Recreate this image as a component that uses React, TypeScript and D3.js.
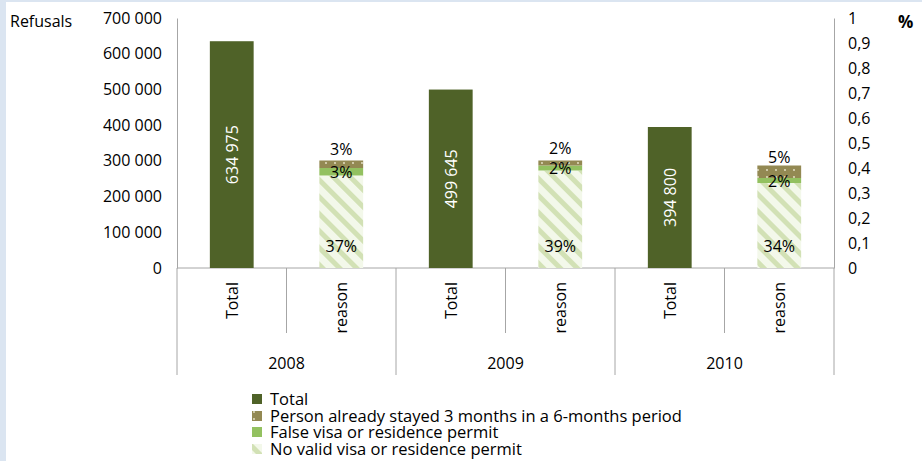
import * as d3 from "d3";
import { useRef, useEffect } from "react";

const width = 922;
const height = 461;
const plotLeft = 177;
const plotRight = 834;
const plotTop = 18;
const plotBottom = 268;

const years = ["2008", "2009", "2010"];
const kinds = ["Total", "reason"];
const totals = [634975, 499645, 394800];
const noValid = [0.37, 0.39, 0.34];
const falseVisa = [0.03, 0.02, 0.02];
const stayed = [0.03, 0.02, 0.05];
const leftTicks = [0, 100000, 200000, 300000, 400000, 500000, 600000, 700000];
const rightTicks = [0, 0.1, 0.2, 0.3, 0.4, 0.5, 0.6, 0.7, 0.8, 0.9, 1];
const legendItems = [
  "Total",
  "Person already stayed 3 months in a 6-months period",
  "False visa or residence permit",
  "No valid visa or residence permit",
];

const font = "'Open Sans', Lato, sans-serif";
const totalColor = "#4f6228";
const falseColor = "#93c160";
const axisColor = "#a6a6a6";

const locale = d3.formatLocale({
  decimal: ",",
  thousands: " ",
  grouping: [3],
  currency: ["", ""],
});
const fmtInt = locale.format(",d");
const fmtDec = (v: number) => (v === 0 || v === 1 ? String(v) : locale.format(".1f")(v));
const pct = (v: number) => `${Math.round(v * 100)}%`;

const App = () => {
  const gy = useRef<SVGGElement>(null);
  const gyr = useRef<SVGGElement>(null);

  const slots = years.flatMap((yr) => kinds.map((k) => `${yr}|${k}`));
  const x = d3
    .scaleBand()
    .domain(slots)
    .range([plotLeft, plotRight])
    .paddingInner(0.6)
    .paddingOuter(0.3);
  const step = x.step();

  const y = d3.scaleLinear().domain([0, 700000]).range([plotBottom, plotTop]);
  const yr = d3.scaleLinear().domain([0, 1]).range([plotBottom, plotTop]);

  useEffect(() => {
    if (gy.current) {
      const g = d3.select(gy.current);
      g.selectAll("*").remove();
      g.call(
        d3
          .axisLeft(y)
          .tickValues(leftTicks)
          .tickSize(0)
          .tickSizeOuter(0)
          .tickPadding(15)
          .tickFormat((d) => fmtInt(d as number))
      );
      g.select(".domain").attr("stroke", axisColor);
      g.selectAll("text")
        .attr("font-family", font)
        .attr("font-size", 16)
        .attr("fill", "#000");
    }
    if (gyr.current) {
      const g = d3.select(gyr.current);
      g.selectAll("*").remove();
      g.call(
        d3
          .axisRight(yr)
          .tickValues(rightTicks)
          .tickSize(0)
          .tickSizeOuter(0)
          .tickPadding(14)
          .tickFormat((d) => fmtDec(d as number))
      );
      g.select(".domain").attr("stroke", axisColor);
      g.selectAll("text")
        .attr("font-family", font)
        .attr("font-size", 16)
        .attr("fill", "#000");
    }
  }, []);

  const legendY = [400, 417, 433, 450];

  return (
    <svg
      width={width}
      height={height}
      viewBox={`0 0 ${width} ${height}`}
      style={{ position: "absolute", left: 0, top: 0, background: "#fff" }}
    >
      <defs>
        <pattern
          id="hatch"
          patternUnits="userSpaceOnUse"
          width={12}
          height={12}
          patternTransform="rotate(-45)"
        >
          <rect width={12} height={12} fill="#f3f8ea" />
          <rect width={5} height={12} fill="#d2e1b5" />
        </pattern>
        <pattern id="dots" patternUnits="userSpaceOnUse" width={9} height={7}>
          <rect width={9} height={7} fill="#938953" />
          <circle cx={2} cy={2} r={0.9} fill="#ece8cf" />
        </pattern>
      </defs>

      {/* page frame */}
      <rect x={0} y={0} width={width} height={2} fill="#dbe5f1" />
      <rect x={0} y={0} width={6} height={height} fill="#dbe5f1" />

      <text x={10} y={27} fontFamily={font} fontSize={16}>
        Refusals
      </text>
      <text x={898} y={28} fontFamily={font} fontSize={17} fontWeight="bold">
        %
      </text>

      <g ref={gy} transform={`translate(${plotLeft},0)`} />
      <g ref={gyr} transform={`translate(${plotRight},0)`} />

      {/* category axis */}
      <line x1={plotLeft} x2={plotRight} y1={plotBottom} y2={plotBottom} stroke={axisColor} />
      {d3.range(slots.length + 1).map((i) => {
        const xx = plotLeft + i * step;
        const long = i % 2 === 0;
        return (
          <line
            key={i}
            x1={xx}
            x2={xx}
            y1={plotBottom}
            y2={long ? 375 : 333}
            stroke={axisColor}
          />
        );
      })}
      {slots.map((s) => {
        const cx = (x(s) as number) + x.bandwidth() / 2;
        return (
          <text
            key={s}
            transform={`translate(${cx + 6},282) rotate(-90)`}
            textAnchor="end"
            fontFamily={font}
            fontSize={16}
          >
            {s.split("|")[1]}
          </text>
        );
      })}
      {years.map((yrLabel, i) => (
        <text
          key={yrLabel}
          x={plotLeft + step * (2 * i + 1)}
          y={369}
          textAnchor="middle"
          fontFamily={font}
          fontSize={16}
        >
          {yrLabel}
        </text>
      ))}

      {/* total bars */}
      {years.map((yrLabel, i) => {
        const bx = x(`${yrLabel}|Total`) as number;
        const top = y(totals[i]);
        const cy = (top + plotBottom) / 2;
        const cx = bx + x.bandwidth() / 2;
        return (
          <g key={yrLabel}>
            <rect x={bx} y={top} width={x.bandwidth()} height={plotBottom - top} fill={totalColor} />
            <text
              transform={`translate(${cx + 6},${cy}) rotate(-90)`}
              textAnchor="middle"
              fontFamily={font}
              fontSize={16}
              fill="#fff"
            >
              {fmtInt(totals[i])}
            </text>
          </g>
        );
      })}

      {/* reason stacks */}
      {years.map((yrLabel, i) => {
        const bx = x(`${yrLabel}|reason`) as number;
        const bw = x.bandwidth();
        const cx = bx + bw / 2;
        const a = noValid[i];
        const b = a + falseVisa[i];
        const c = b + stayed[i];
        return (
          <g key={yrLabel}>
            <rect x={bx} y={yr(a)} width={bw} height={yr(0) - yr(a)} fill="url(#hatch)" />
            <rect x={bx} y={yr(b)} width={bw} height={yr(a) - yr(b)} fill={falseColor} />
            <rect x={bx} y={yr(c)} width={bw} height={yr(b) - yr(c)} fill="url(#dots)" />
            <text x={cx} y={plotBottom - 16} textAnchor="middle" fontFamily={font} fontSize={16}>
              {pct(noValid[i])}
            </text>
            <text x={cx} y={(yr(a) + yr(b)) / 2 + 6} textAnchor="middle" fontFamily={font} fontSize={16}>
              {pct(falseVisa[i])}
            </text>
            <text x={cx} y={(yr(b) + yr(c)) / 2 - 9} textAnchor="middle" fontFamily={font} fontSize={16}>
              {pct(stayed[i])}
            </text>
          </g>
        );
      })}

      {/* legend */}
      {legendItems.map((label, i) => (
        <g key={label} transform={`translate(252,${legendY[i]})`}>
          <rect
            x={0}
            y={-6}
            width={10}
            height={10}
            fill={i === 0 ? totalColor : i === 1 ? "url(#dots)" : i === 2 ? falseColor : "url(#hatch)"}
          />
          <text x={18} y={5} fontFamily={font} fontSize={16.5}>
            {label}
          </text>
        </g>
      ))}
    </svg>
  );
};

export default App;
